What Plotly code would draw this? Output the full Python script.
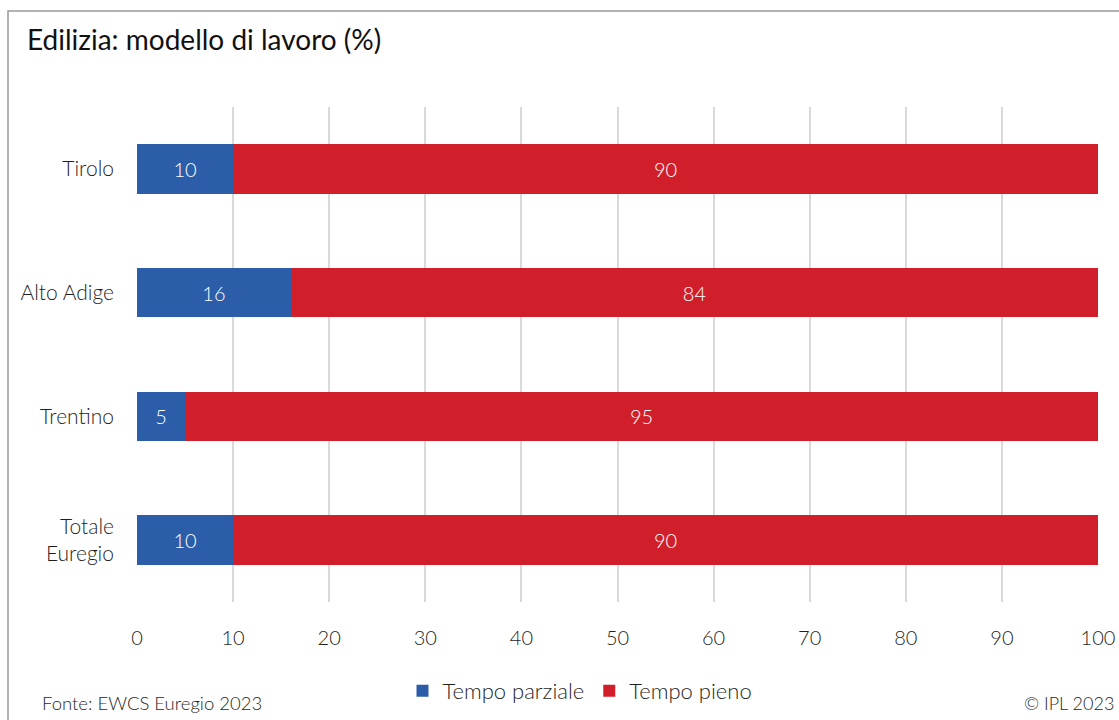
import plotly.graph_objects as go

# Work model in construction by region (%)
regions = ["Tirolo", "Alto Adige", "Trentino", "Totale<br>Euregio"]
part_time = [10, 16, 5, 10]
full_time = [90, 84, 95, 90]
series_names = ["Tempo parziale", "Tempo pieno"]
x_ticks = [0, 10, 20, 30, 40, 50, 60, 70, 80, 90, 100]

BLUE = "#2B5DA9"
RED = "#D01F2A"
FONT = "Lato"
WT = 300
INK = "#1F1F1F"

fig = go.Figure()
for name, vals, col in [(series_names[0], part_time, BLUE), (series_names[1], full_time, RED)]:
    fig.add_trace(go.Bar(
        y=regions, x=vals, name=name, orientation="h",
        marker=dict(color=col, line=dict(width=0)),
        width=0.4,
        text=[str(v) for v in vals], textposition="inside",
        insidetextanchor="middle",
        textfont=dict(color="white", size=20, family=FONT, weight=WT),
        hoverinfo="skip",
    ))

W, H = 1119, 720
L, R, T, B = 137, 21, 107, 118
pw, ph = W - L - R, H - T - B

def px_x(x):
    return (x - L) / pw

def px_y(y):
    return (H - B - y) / ph

fig.update_layout(
    width=W, height=H,
    margin=dict(l=L, r=R, t=T, b=B, autoexpand=False),
    barmode="stack",
    plot_bgcolor="white", paper_bgcolor="white",
    font=dict(family=FONT, color=INK, size=18, weight=WT),
    showlegend=True,
    legend=dict(
        orientation="h", x=px_x(580), xanchor="center",
        y=px_y(691), yanchor="middle",
        font=dict(size=22, family=FONT, color=INK, weight=WT),
        traceorder="normal", itemwidth=30,
    ),
    xaxis=dict(
        range=[0, 100], tickvals=x_ticks, showgrid=True,
        gridcolor="#D9D9D9", gridwidth=2, zeroline=False,
        showline=False, ticks="", ticklabelstandoff=22, automargin=False,
        tickfont=dict(size=20, family=FONT, color=INK, weight=WT),
    ),
    yaxis=dict(
        autorange="reversed", showgrid=False, showline=False,
        ticks="", ticklabelstandoff=22, automargin=False,
        tickfont=dict(size=21, family=FONT, color=INK, weight=WT),
    ),
    bargap=0.6,
)

# outer frame
fig.add_shape(type="rect", xref="paper", yref="paper",
              x0=px_x(8), x1=px_x(1125), y0=px_y(730), y1=px_y(11),
              line=dict(color="#999999", width=1.5), fillcolor="rgba(0,0,0,0)",
              layer="below")

fig.add_annotation(text="Edilizia: modello di lavoro (%)", xref="paper", yref="paper",
                   x=px_x(25), y=px_y(39), xanchor="left", yanchor="middle",
                   showarrow=False, font=dict(size=28, family=FONT, color="#111111", weight=400))
fig.add_annotation(text="Fonte: EWCS Euregio 2023", xref="paper", yref="paper",
                   x=px_x(40), y=px_y(703), xanchor="left", yanchor="middle",
                   showarrow=False, font=dict(size=18.5, family=FONT, color=INK, weight=WT))
fig.add_annotation(text="© IPL 2023", xref="paper", yref="paper",
                   x=px_x(1116), y=px_y(703), xanchor="right", yanchor="middle",
                   showarrow=False, font=dict(size=18, family=FONT, color=INK, weight=WT))

fig.write_html("out.html")
